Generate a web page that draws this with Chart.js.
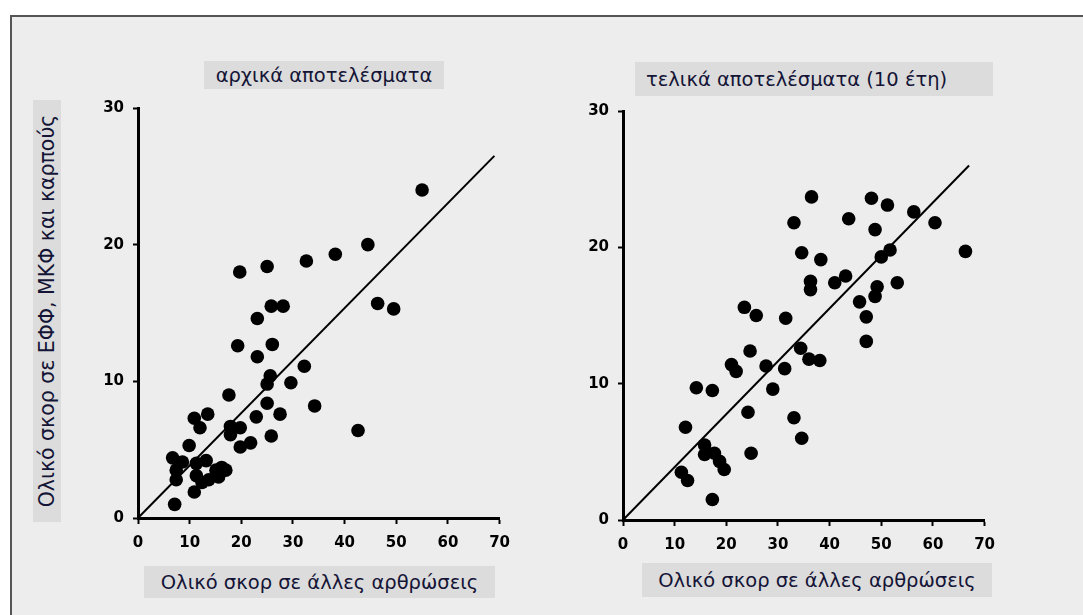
<!DOCTYPE html>
<html>
<head>
<meta charset="utf-8">
<script src="https://cdn.jsdelivr.net/npm/chart.js@4"></script>
<style>
  html,body{margin:0;padding:0;background:#fff;}
  #wrap{position:relative;width:1083px;height:615px;overflow:hidden;background:#fff;}
  #frame{position:absolute;left:10px;top:15px;width:1090px;height:620px;border:2px solid #555;background:#ededed;box-sizing:border-box;}
  canvas{position:absolute;}
  .lbl{position:absolute;background:#dcdcdc;color:#141436;font-family:"DejaVu Sans",sans-serif;font-size:19.5px;white-space:nowrap;display:flex;align-items:center;justify-content:center;}
  #ytitle{position:absolute;left:33px;top:100px;width:28px;height:422px;background:#dcdcdc;}
  #ytitle span{position:absolute;left:50%;top:50%;transform:translate(-50%,-50%) rotate(-90deg);color:#141436;font-family:"DejaVu Sans",sans-serif;font-size:20.5px;white-space:nowrap;}
</style>
</head>
<body>
<div id="wrap">
  <div id="frame"></div>
  <div class="lbl" style="left:204px;top:61px;width:240px;height:28px;">αρχικά αποτελέσματα</div>
  <div class="lbl" style="left:635px;top:62px;width:358px;height:34px;justify-content:flex-start;padding-left:11px;box-sizing:border-box;">τελικά αποτελέσματα (10 έτη)</div>
  <div class="lbl" style="left:144px;top:566px;width:351px;height:32px;">Ολικό σκορ σε άλλες αρθρώσεις</div>
  <div class="lbl" style="left:642px;top:563px;width:350px;height:34px;">Ολικό σκορ σε άλλες αρθρώσεις</div>
  <div id="ytitle"><span>Ολικό σκορ σε ΕΦΦ, ΜΚΦ και καρπούς</span></div>
  <canvas id="c1" width="430" height="470" style="left:90px;top:90px;"></canvas>
  <canvas id="c2" width="430" height="470" style="left:575px;top:90px;"></canvas>
</div>
<script>
// ---- data ----
const xTicks = [0, 10, 20, 30, 40, 50, 60, 70];
const yTicks = [0, 10, 20, 30];

const initialX = [55, 44.5, 38.2, 32.6, 25, 19.7, 46.4, 49.5, 25.8, 28.1, 23.1, 19.3, 26, 23.1, 32.2, 25.6, 25, 29.6, 17.6, 25, 34.2, 27.5, 22.9, 13.5, 10.9, 12, 17.9, 19.8, 17.9, 25.8, 42.6, 21.8, 19.8, 9.9, 6.7, 8.6, 7.4, 7.4, 11.3, 13.2, 11.3, 12.4, 10.9, 15.1, 17.0, 15.6, 13.7, 16.2, 7.1];
const initialY = [24, 20, 19.3, 18.8, 18.4, 18.0, 15.7, 15.3, 15.5, 15.5, 14.6, 12.6, 12.7, 11.8, 11.1, 10.4, 9.8, 9.9, 9.0, 8.4, 8.2, 7.6, 7.4, 7.6, 7.3, 6.6, 6.7, 6.6, 6.1, 6.0, 6.4, 5.5, 5.2, 5.3, 4.4, 4.1, 3.5, 2.8, 4.0, 4.2, 3.1, 2.6, 1.9, 3.5, 3.5, 3.0, 2.8, 3.7, 1.0];

const finalX = [23.5, 25.8, 31.5, 24.6, 34.4, 21, 21.9, 27.7, 31.3, 36, 38.1, 14.2, 17.3, 29, 24.2, 33.1, 34.6, 12.1, 24.8, 15.8, 15.8, 17.7, 18.7, 19.6, 11.3, 12.5, 17.3, 36.5, 33.1, 34.6, 38.3, 36.3, 36.3, 41, 43.1, 48.1, 51.2, 43.7, 56.3, 60.4, 48.8, 51.7, 50, 66.3, 49.2, 48.8, 53.1, 45.8, 47.1, 47.1];
const finalY = [15.6, 15.0, 14.8, 12.4, 12.6, 11.4, 10.9, 11.3, 11.1, 11.8, 11.7, 9.7, 9.5, 9.6, 7.9, 7.5, 6.0, 6.8, 4.9, 5.5, 4.8, 4.9, 4.3, 3.7, 3.5, 2.9, 1.5, 23.7, 21.8, 19.6, 19.1, 17.5, 16.9, 17.4, 17.9, 23.6, 23.1, 22.1, 22.6, 21.8, 21.3, 19.8, 19.3, 19.7, 17.1, 16.4, 17.4, 16.0, 14.9, 13.1];

const initialLineX = [0, 69];
const initialLineY = [0, 26.5];
const finalLineX = [0, 67];
const finalLineY = [0, 26];

function pts(xs, ys){ return xs.map((x,i)=>({x:x, y:ys[i]})); }

function makeChart(id, xs, ys, lx, ly, pad, yW, xH){
  return new Chart(document.getElementById(id), {
    type: 'scatter',
    data: {
      datasets: [
        { data: pts(xs, ys), backgroundColor: '#000', borderWidth: 0, pointRadius: 6.8, pointHoverRadius: 6.8 },
        { data: pts(lx, ly), showLine: true, borderColor: '#000', borderWidth: 2, pointRadius: 0, fill: false }
      ]
    },
    options: {
      responsive: false,
      animation: false,
      devicePixelRatio: 1,
      events: [],
      layout: { padding: pad },
      plugins: { legend: { display: false }, tooltip: { enabled: false } },
      scales: {
        x: {
          type: 'linear', min: 0, max: 70,
          afterBuildTicks: s => { s.ticks = xTicks.map(v => ({value: v})); },
          afterFit: s => { s.height = xH; },
          border: { display: true, color: '#000', width: 3 },
          grid: { display: true, drawOnChartArea: false, drawTicks: true, tickLength: 6, tickColor: '#000', tickWidth: 2 },
          ticks: { color: '#000', padding: 10, font: { family: 'DejaVu Sans', size: 15, weight: 'bold' } }
        },
        y: {
          type: 'linear', min: 0, max: 30,
          afterBuildTicks: s => { s.ticks = yTicks.map(v => ({value: v})); },
          afterFit: s => { s.width = yW; },
          border: { display: true, color: '#000', width: 3 },
          grid: { display: true, drawOnChartArea: false, drawTicks: true, tickLength: 5, tickColor: '#000', tickWidth: 2 },
          ticks: { color: '#000', padding: 9, font: { family: 'DejaVu Sans', size: 15, weight: 'bold' } }
        }
      }
    }
  });
}

makeChart('c1', initialX, initialY, initialLineX, initialLineY, {top:16, right:11, left:0, bottom:0}, 48, 42);
makeChart('c2', finalX, finalY, finalLineX, finalLineY, {top:21, right:20, left:0, bottom:0}, 48, 40);
</script>
</body>
</html>
